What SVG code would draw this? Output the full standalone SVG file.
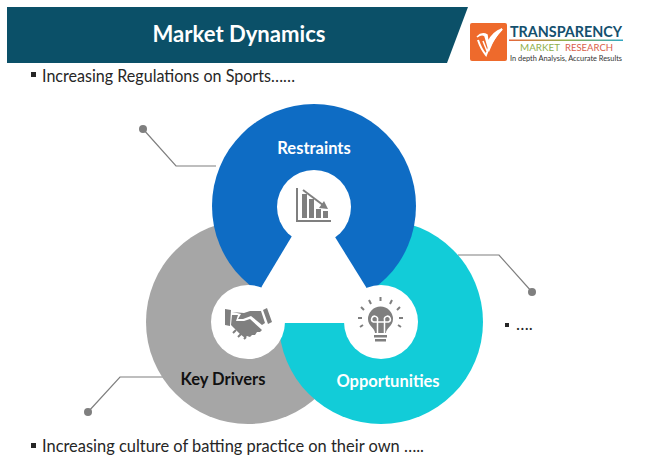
<svg xmlns="http://www.w3.org/2000/svg" width="650" height="469" viewBox="0 0 650 469">
<defs>
<linearGradient id="rule" x1="0" x2="1" y1="0" y2="0"><stop offset="0" stop-color="#e8663a"/><stop offset=".5" stop-color="#8fb04c"/><stop offset="1" stop-color="#2fa6c4"/></linearGradient>
</defs>
<style>
text{font-family:Lato,"Liberation Sans",sans-serif}
.b{font-size:17px;fill:#262626}
.l{font-weight:700;font-size:16.500px}
.ln{fill:none;stroke:#7f7f7f;stroke-width:1.200}
.d{fill:#7f7f7f}
.ic{fill:#7f7f7f}
.is{fill:none;stroke:#7f7f7f;stroke-width:2}
.w{fill:none;stroke:#fff;stroke-width:1.500}
</style>
<rect width="650" height="469" fill="#fff"/>
<g id="header"><polygon points="7,7 468,7 447,63 7,63" fill="#0b5068"/>
<text x="239" y="42" text-anchor="middle" fill="#fff" font-size="22" font-weight="700" textLength="173" lengthAdjust="spacingAndGlyphs">Market Dynamics</text></g>
<g id="logo">
<rect x="470" y="23" width="37" height="38" rx="2" fill="#ee6a2c"/>
<path d="M477 37q5-4 8-1l4 14q5-13 13-21q-9 3-14 13l-1-7q-5-3-10 2z M487 51l-4-10" fill="#fff" stroke="#fff" stroke-width="1.500"/>
<path d="M478 40q3 9 8 15q5-15 16-26" fill="none" stroke="#fff" stroke-width="2"/>
<text x="510" y="37" font-size="15" font-weight="700" fill="#14506e" textLength="112" lengthAdjust="spacingAndGlyphs">TRANSPARENCY</text>
<rect x="509" y="39.500" width="114" height="1.500" fill="url(#rule)"/>
<text x="520" y="51" font-size="9" fill="#8fb04c" textLength="40" lengthAdjust="spacingAndGlyphs">MARKET</text>
<text x="565" y="51" font-size="9" fill="#d9604a" textLength="48" lengthAdjust="spacingAndGlyphs">RESEARCH</text>
<text x="510" y="61" font-size="7" fill="#333" textLength="112" lengthAdjust="spacingAndGlyphs">In depth Analysis, Accurate Results</text>
</g>
<g id="bullet-top"><rect x="31" y="72" width="5" height="5" fill="#262626"/><text class="b" x="42" y="82" textLength="253" lengthAdjust="spacingAndGlyphs">Increasing Regulations on Sports……</text></g>
<g id="connectors">
<path class="ln" d="M143 129L176 166H216"/><circle class="d" cx="143" cy="129" r="4"/>
<path class="ln" d="M532 292L499 255H458"/><circle class="d" cx="532" cy="292" r="4"/>
<path class="ln" d="M88 412L120 377H170"/><circle class="d" cx="88" cy="412" r="4"/>
</g>
<g id="key-drivers"><circle cx="248" cy="322" r="102" fill="#a6a6a6"/></g>
<g id="opportunities"><circle cx="381" cy="322" r="102" fill="#12ccd8"/></g>
<g id="restraints"><circle cx="314" cy="206" r="102" fill="#0e6cc4"/></g>
<g id="centre">
<polygon points="314,207 292,236 262,286 248,323 381,323 366,287 335,237" fill="#fff"/>
<circle cx="314" cy="207" r="37" fill="#fff"/><circle cx="248" cy="322" r="37" fill="#fff"/><circle cx="381" cy="322" r="37" fill="#fff"/>
</g>
<g id="restraints-label"><text class="l" x="314" y="154" text-anchor="middle" fill="#fff">Restraints</text>
<path class="ic" d="M296 188h2v32h33v2h-35z M302 194h5v24h-5z M309 199h5v19h-5z M316 209h5v9h-5z M323 211h5v7h-5z"/>
<path d="M303 190L323 205" stroke="#7f7f7f" stroke-width="2" fill="none"/><polygon class="ic" points="328,209 319,208 324,201"/>
</g>
<g id="key-drivers-label"><text class="l" x="223" y="385" text-anchor="middle" fill="#111">Key Drivers</text>
<path class="ic" d="M225 309l6 1-1 16-5-1z M267 308l5 14-4 2-5-14z M232 312l12 1 6-2 11 0 4 12-3 2-11-9-8 3-5 0 3-5 -4-1z M231 325l1-10 6 0-2 6 8 0 6-2 12 11-2 2-3 0-2 3-3 0-2 2-3-1-2 2-5-4-6-6z"/>
<path d="M236 330l-3 3M241 334l-3 3M246 337l-2 2" class="is"/>
</g>
<g id="opportunities-label"><text class="l" x="388" y="387" text-anchor="middle" fill="#fff">Opportunities</text>
<path class="ic" d="M375 333c0-5-7-7-7-14a12.500 12.500 0 0 1 25 0c0 7-7 9-7 14z"/>
<path class="w" d="M377.500 333v-13a3 3 0 1 0-4 2h15a3 3 0 1 0-4-2v13"/>
<path class="ic" d="M374 335h13v2.500h-13z M375 339h11v2.500h-11z"/>
<path class="is" d="M380.500 301v-4 M371 304l-2-4 M390 304l2-4 M364 310l-3-3 M397 310l3-3 M362 318h-4 M399 318h4 M363 325l-3 2 M398 325l3 2"/>
</g>
<g id="bullet-right"><rect x="505" y="323" width="4" height="4" fill="#262626"/><text class="b" x="516" y="330" font-size="14">….</text></g>
<g id="bullet-bottom"><rect x="31" y="443" width="5" height="5" fill="#262626"/><text class="b" x="42" y="452" textLength="382" lengthAdjust="spacingAndGlyphs">Increasing culture of batting practice on their own …..</text></g>
</svg>
